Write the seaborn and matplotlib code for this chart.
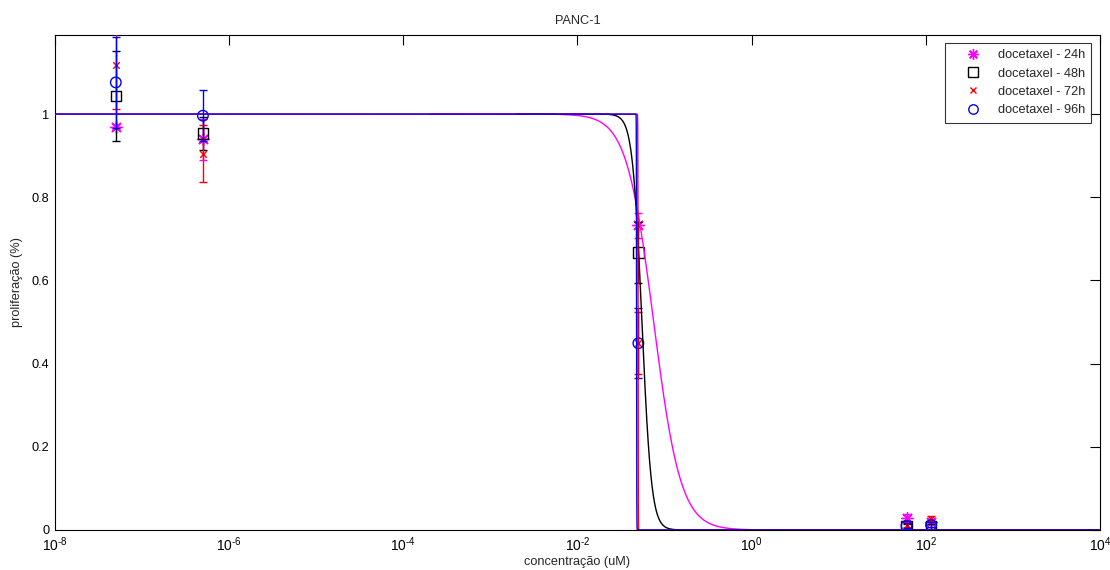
import numpy as np
import pandas as pd
import matplotlib
matplotlib.use("Agg")
import matplotlib.pyplot as plt
import seaborn as sns
from matplotlib.lines import Line2D
from matplotlib.ticker import NullLocator, FixedLocator

# ---------------- data ----------------
series_names = ["docetaxel - 24h", "docetaxel - 48h", "docetaxel - 72h", "docetaxel - 96h"]
conc_uM = [5e-8, 5e-7, 0.05, 60, 115]

mean_24h = [0.969, 0.939, 0.733, 0.030, 0.020]
err_24h = [0.006, 0.050, 0.030, 0.008, 0.006]
mean_48h = [1.043, 0.953, 0.667, 0.008, 0.008]
err_48h = [0.108, 0.040, 0.074, 0.006, 0.006]
mean_72h = [1.118, 0.905, 0.449, 0.012, 0.026]
err_72h = [0.106, 0.068, 0.074, 0.006, 0.008]
mean_96h = [1.076, 0.996, 0.449, 0.010, 0.012]
err_96h = [0.110, 0.061, 0.084, 0.006, 0.006]

# fitted dose-response (Hill) parameters per series
ic50 = [0.075, 0.055, 0.0496, 0.0477]
hill = [2.8, 8.0, 400.0, 400.0]
curve_start = [2e-4, 2e-3, 1e-8, 1e-8]
curve_end = [1e4, 1e4, 1e4, 1e4]

x_tick_exponents = [-8, -6, -4, -2, 0, 2, 4]
y_ticks = [0, 0.2, 0.4, 0.6, 0.8, 1.0]
y_tick_labels = ["0", "0.2", "0.4", "0.6", "0.8", "1"]

colors = ["#ff00ff", "#000000", "#ff0000", "#0000ff"]
markers = [(8, 2, 0), "s", "x", "o"]
msizes = [9, 8, 5, 8]

means = [mean_24h, mean_48h, mean_72h, mean_96h]
errs = [err_24h, err_48h, err_72h, err_96h]

# ---------------- style ----------------
sns.set_style("white")
plt.rcParams["font.family"] = ["Liberation Sans", "DejaVu Sans"]
plt.rcParams["mathtext.default"] = "regular"
plt.rcParams["axes.unicode_minus"] = False
FS = 9.2
plt.rcParams["font.size"] = FS

fig = plt.figure(figsize=(11.1, 5.7), dpi=100)
ax = fig.add_axes([0.0495, 0.0702, 0.9415, 0.8684])

# curves
rows = []
for name, c50, h, xs, xe in zip(series_names, ic50, hill, curve_start, curve_end):
    xx = np.logspace(np.log10(xs), np.log10(xe), 30000)
    yy = 1.0 / (1.0 + (xx / c50) ** h)
    rows.append(pd.DataFrame({"x": xx, "y": yy, "series": name}))
curves = pd.concat(rows, ignore_index=True)

# error bars and markers
pts = []
for name, m, e in zip(series_names, means, errs):
    pts.append(pd.DataFrame({"x": conc_uM, "y": m, "err": e, "series": name}))
points = pd.concat(pts, ignore_index=True)

hollow = [False, True, False, True]
for i, name in enumerate(series_names):
    sub = points[points.series == name]
    ax.errorbar(sub.x, sub.y, yerr=sub.err, fmt="none", ecolor=colors[i],
                elinewidth=1.0, capsize=3, capthick=1.0, zorder=2 + i)
    sns.scatterplot(data=sub, x="x", y="y", ax=ax, marker=markers[i],
                    s=msizes[i] ** 2 * 0.9,
                    facecolors="none" if hollow[i] else colors[i],
                    edgecolors=colors[i] if hollow[i] else None,
                    color=colors[i], linewidths=1.0, zorder=2 + i, legend=False)

for i, name in enumerate(series_names):
    sub = curves[curves.series == name]
    sns.lineplot(data=sub, x="x", y="y", ax=ax, color=colors[i], linewidth=1.0,
                 estimator=None, sort=False, zorder=6 + i, legend=False)

ax.set_xscale("log")
ax.set_xlim(1e-8, 1e4)
ax.set_ylim(0, 1.19)
ax.xaxis.set_major_locator(FixedLocator([10.0 ** e for e in x_tick_exponents]))
ax.xaxis.set_minor_locator(NullLocator())
ax.set_xticklabels(["$10^{%s}$" % str(e).replace("-", "\u2010") for e in x_tick_exponents])
ax.set_yticks(y_ticks)
ax.set_yticklabels(y_tick_labels)
ax.tick_params(direction="in", length=7, width=0.8, top=True, right=True,
               labelsize=FS, colors="black", pad=4)
ax.tick_params(axis="x", labelsize=10, pad=4)
for sp in ax.spines.values():
    sp.set_color("black")
    sp.set_linewidth(0.8)

ax.set_title("PANC-1", fontsize=FS, pad=8)
ax.set_xlabel("concentração (uM)", fontsize=FS, labelpad=1)
ax.set_ylabel("proliferação (%)", fontsize=FS, labelpad=6)

handles = []
for i, name in enumerate(series_names):
    handles.append(Line2D([], [], linestyle="none", marker=markers[i], markersize=msizes[i] * 0.85,
                          markerfacecolor="none" if hollow[i] else colors[i],
                          markeredgecolor=colors[i], markeredgewidth=1.0, label=name))
leg = ax.legend(handles=handles, loc="upper right", bbox_to_anchor=(0.9955, 0.992),
                fontsize=FS, frameon=True, fancybox=False, edgecolor="black",
                borderpad=0.5, labelspacing=0.5, handlelength=3.4, handletextpad=0.25,
                borderaxespad=0.3)
leg.get_frame().set_linewidth(0.8)

fig.savefig("out.png", dpi=100, facecolor="white")
